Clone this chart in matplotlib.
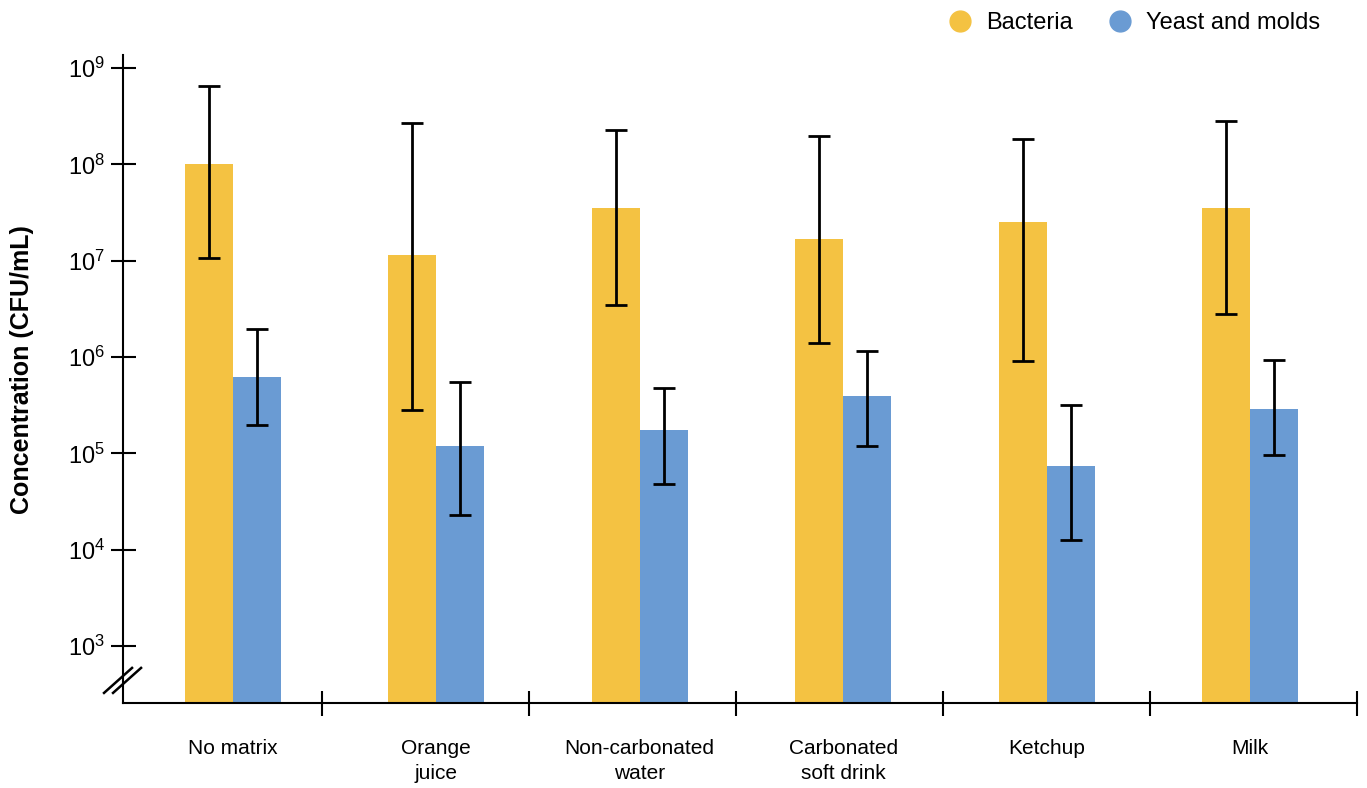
import matplotlib
matplotlib.use("Agg")
import matplotlib.pyplot as plt
from matplotlib.lines import Line2D
import numpy as np

plt.rcParams["font.family"] = ["Liberation Sans", "DejaVu Sans"]
plt.rcParams["mathtext.fontset"] = "custom"
plt.rcParams["mathtext.rm"] = "Liberation Sans"
plt.rcParams["mathtext.it"] = "Liberation Sans:italic"
plt.rcParams["mathtext.bf"] = "Liberation Sans:bold"

# data
categories = ["No matrix", "Orange\njuice", "Non-carbonated\nwater",
              "Carbonated\nsoft drink", "Ketchup", "Milk"]
bacteria = [1.0e8, 1.15e7, 3.5e7, 1.68e7, 2.5e7, 3.5e7]
bacteria_hi = [6.5e8, 2.7e8, 2.3e8, 1.97e8, 1.83e8, 2.8e8]
bacteria_lo = [1.07e7, 2.8e5, 3.5e6, 1.4e6, 9.1e5, 2.8e6]
yeast = [6.2e5, 1.19e5, 1.75e5, 3.9e5, 7.4e4, 2.9e5]
yeast_hi = [1.95e6, 5.5e5, 4.8e5, 1.15e6, 3.2e5, 9.3e5]
yeast_lo = [1.97e5, 2.3e4, 4.8e4, 1.19e5, 1.26e4, 9.6e4]
ytick_vals = [1e3, 1e4, 1e5, 1e6, 1e7, 1e8, 1e9]
ytick_labels = [r"$10^{3}$", r"$10^{4}$", r"$10^{5}$", r"$10^{6}$",
                r"$10^{7}$", r"$10^{8}$", r"$10^{9}$"]

yellow = "#F4C242"
blue = "#6A9BD3"

fig = plt.figure(figsize=(13.67, 7.88), dpi=100)
ax = fig.add_axes([0.09, 0.108, 0.9027, 0.822])

x = np.arange(len(categories))
w = 0.236
bot = 10 ** 2.408

def errs(v, lo, hi):
    v = np.array(v); return [v - np.array(lo), np.array(hi) - v]

ax.bar(x - w / 2, np.array(bacteria) - bot, w, bottom=bot, color=yellow, zorder=2)
ax.bar(x + w / 2, np.array(yeast) - bot, w, bottom=bot, color=blue, zorder=2)
ax.errorbar(x - w / 2, bacteria, yerr=errs(bacteria, bacteria_lo, bacteria_hi),
            fmt="none", ecolor="black", elinewidth=2, capsize=8, capthick=2, zorder=3)
ax.errorbar(x + w / 2, yeast, yerr=errs(yeast, yeast_lo, yeast_hi),
            fmt="none", ecolor="black", elinewidth=2, capsize=8, capthick=2, zorder=3)

ax.set_yscale("log")
ax.set_ylim(bot, 10 ** 9.135)
ax.set_xlim(-0.54, 5.526)
ax.set_yticks(ytick_vals)
ax.set_yticklabels(ytick_labels, fontsize=17)
ax.yaxis.set_minor_locator(matplotlib.ticker.NullLocator())
ax.tick_params(axis="y", direction="inout", length=18, width=1.5, pad=4)

ax.set_xticks(x)
ax.set_xticklabels(categories, fontsize=15, linespacing=1.4, va="top")
ax.tick_params(axis="x", which="major", length=0, pad=26)
ax.set_xticks(np.linspace(0.4375, 5.526, 6), minor=True)
ax.tick_params(axis="x", which="minor", direction="inout", length=18, width=1.5)

for s in ["top", "right"]:
    ax.spines[s].set_visible(False)
for s in ["left", "bottom"]:
    ax.spines[s].set_linewidth(1.5)

ax.set_ylabel("Concentration (CFU/mL)", fontsize=18, fontweight="bold")
ax.yaxis.set_label_coords(-0.072, 0.514)

# axis break marks
for dx in [0.0, 0.0073]:
    ax.plot([-0.0154 + dx, 0.0073 + dx], [0.0154, 0.054], transform=ax.transAxes,
            color="black", lw=1.8, clip_on=False, zorder=5)

handles = [Line2D([], [], marker="o", ls="none", color=yellow, markersize=15),
           Line2D([], [], marker="o", ls="none", color=blue, markersize=15)]
fig.legend(handles, ["Bacteria", "Yeast and molds"], loc="upper right",
           bbox_to_anchor=(0.981, 1.012), ncol=2, frameon=False, fontsize=17,
           handletextpad=0.1, columnspacing=1.0)

fig.savefig("out.png", dpi=100)
